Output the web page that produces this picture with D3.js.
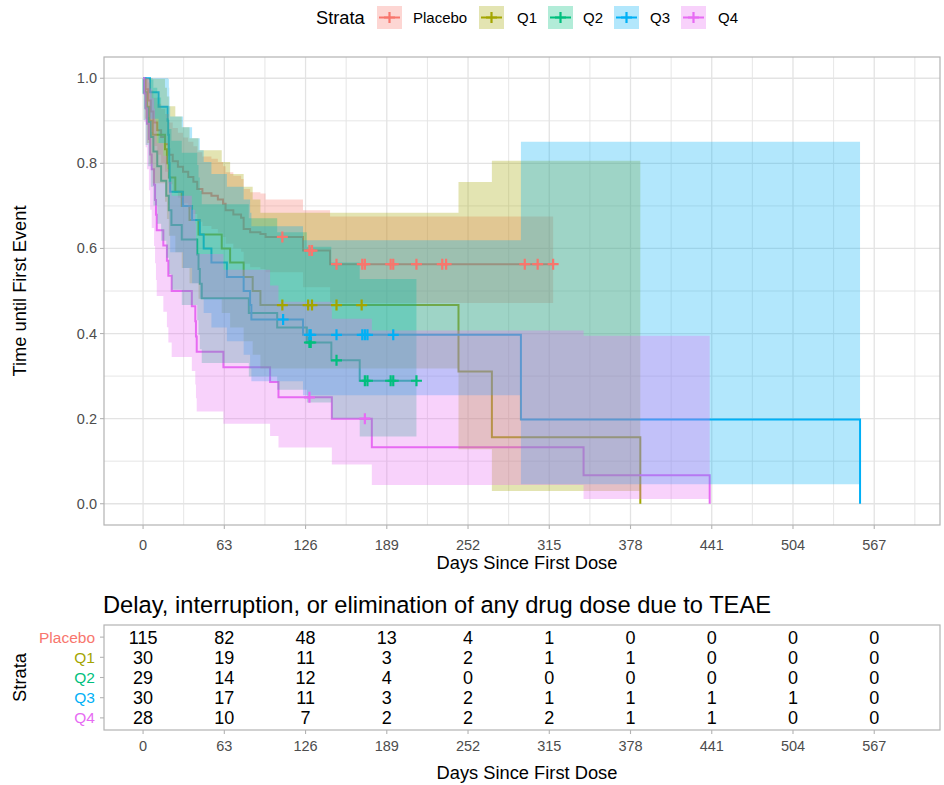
<!DOCTYPE html>
<html>
<head>
<meta charset="utf-8">
<script src="https://cdn.jsdelivr.net/npm/d3@7"></script>
<style>
  body { margin: 0; background: #fff; }
  svg { display: block; }
  text { font-family: "Liberation Sans", Arial, Helvetica, sans-serif; }
</style>
</head>
<body>
<svg id="chart" width="944" height="785"></svg>
<script>
// ---- Kaplan-Meier estimates by stratum (time in days, survival, 95% CI) ----
const strata = ["Placebo", "Q1", "Q2", "Q3", "Q4"];
const strataColors = ["#F8766D", "#A3A500", "#00BF7D", "#00B0F6", "#E76BF3"];

const placeboTime  = [0,2,4,6,8,11,14,17,20,23,27,31,35,39,42,46,53,58,62,64,70,76,78,83,91,95,124,145];
const placeboSurv  = [1,0.974,0.948,0.922,0.896,0.878,0.862,0.845,0.82,0.805,0.792,0.78,0.768,0.757,0.74,0.73,0.724,0.715,0.705,0.69,0.68,0.672,0.646,0.638,0.634,0.627,0.595,0.563];
const placeboUpper = [1,1,0.99,0.972,0.954,0.94,0.928,0.916,0.896,0.883,0.872,0.861,0.851,0.84,0.826,0.816,0.811,0.803,0.793,0.779,0.771,0.763,0.74,0.732,0.729,0.715,0.69,0.675];
const placeboLower = [1,0.945,0.909,0.874,0.841,0.82,0.8,0.78,0.751,0.734,0.719,0.706,0.692,0.681,0.663,0.653,0.646,0.637,0.627,0.611,0.6,0.592,0.564,0.556,0.552,0.544,0.509,0.472];
const placeboEnd = 318;
const placeboCensor = [108,129,131,150,170,172,192,194,212,232,235,296,306,318];

const q1Time  = [0,1.5,3,5,7.5,17,18.5,20,25,30,36,43,61,67.5,78,85,91,244.6,270.5,385.6];
const q1Surv  = [1,0.967,0.933,0.9,0.867,0.833,0.8,0.767,0.733,0.7,0.667,0.633,0.6,0.567,0.533,0.5,0.467,0.311,0.156,0];
const q1Upper = [1,1,1,1,0.998,0.978,0.957,0.934,0.91,0.885,0.859,0.831,0.803,0.775,0.745,0.715,0.684,0.756,0.806,null];
const q1Lower = [1,0.905,0.848,0.799,0.753,0.71,0.669,0.63,0.591,0.554,0.518,0.482,0.448,0.414,0.382,0.35,0.318,0.128,0.03,null];
const q1End = 385.6;
const q1Censor = [108,128,131,150,169.5];

const q2Time  = [0,0.5,2,4,6,8,11,14,18,20,22,30,42,43,44,45.5,82,104,127,146,168];
const q2Surv  = [1,0.966,0.931,0.897,0.862,0.828,0.793,0.759,0.724,0.69,0.655,0.621,0.586,0.552,0.517,0.483,0.448,0.414,0.379,0.337,0.289];
const q2Upper = [1,1,1,1,0.997,0.978,0.955,0.932,0.906,0.881,0.853,0.825,0.796,0.767,0.735,0.704,0.671,0.638,0.604,0.567,0.528];
const q2Lower = [1,0.902,0.843,0.793,0.745,0.701,0.658,0.618,0.578,0.54,0.503,0.467,0.431,0.397,0.363,0.331,0.299,0.268,0.238,0.2,0.158];
const q2End = 212;
const q2Censor = [129,130,150,172,174,192,194,212];

const q3Time  = [0,5.4,12,19,19.5,20,20.3,20.6,21,31,38,44,47,53,65,78,83,84,124,293,556];
const q3Surv  = [1,0.967,0.933,0.9,0.867,0.833,0.8,0.767,0.733,0.7,0.667,0.633,0.6,0.567,0.533,0.5,0.467,0.433,0.397,0.198,0];
const q3Upper = [1,1,1,1,0.998,0.978,0.957,0.934,0.91,0.885,0.859,0.831,0.803,0.775,0.745,0.715,0.684,0.652,0.619,0.851,null];
const q3Lower = [1,0.905,0.848,0.799,0.753,0.71,0.669,0.63,0.591,0.554,0.518,0.482,0.448,0.414,0.382,0.35,0.318,0.288,0.255,0.046,null];
const q3End = 556;
const q3Censor = [108.6,129,130,150,170,172,174,194];

const q4Time  = [0,1,2,3,4.5,5.5,6.7,8.5,9.3,10,10.6,15.7,18.5,19.6,22.2,37.8,40.5,41,41.6,62.3,98.5,105,146.4,177.4,341.6,439.4];
const q4Surv  = [1,0.964,0.929,0.893,0.857,0.821,0.786,0.75,0.714,0.679,0.643,0.607,0.571,0.536,0.5,0.464,0.429,0.393,0.357,0.321,0.286,0.25,0.2,0.133,0.067,0];
const q4Upper = [1,1,1,1,0.997,0.976,0.953,0.929,0.903,0.876,0.847,0.818,0.787,0.757,0.724,0.691,0.658,0.623,0.587,0.55,0.513,0.475,0.435,0.407,0.395,null];
const q4Lower = [1,0.898,0.838,0.786,0.737,0.691,0.648,0.606,0.565,0.526,0.488,0.451,0.415,0.379,0.345,0.312,0.28,0.248,0.217,0.188,0.159,0.132,0.092,0.044,0.011,null];
const q4End = 439.4;
const q4Censor = [129,172];

// ---- Number at risk ----
const riskTimes   = [0,63,126,189,252,315,378,441,504,567];
const riskPlacebo = [115,82,48,13,4,1,0,0,0,0];
const riskQ1      = [30,19,11,3,2,1,1,0,0,0];
const riskQ2      = [29,14,12,4,0,0,0,0,0,0];
const riskQ3      = [30,17,11,3,2,1,1,1,1,0];
const riskQ4      = [28,10,7,2,2,2,1,1,0,0];

// ---- Axis ticks ----
const xTicks = [0,63,126,189,252,315,378,441,504,567];
const xMinor = [31.5,94.5,157.5,220.5,283.5,346.5,409.5,472.5,535.5,598.5];
const yTicks = [0,0.2,0.4,0.6,0.8,1.0];
const yMinor = [0.1,0.3,0.5,0.7,0.9];

const groups = [
  {name: strata[0], color: strataColors[0], time: placeboTime, surv: placeboSurv, upper: placeboUpper, lower: placeboLower, end: placeboEnd, censor: placeboCensor, risk: riskPlacebo},
  {name: strata[1], color: strataColors[1], time: q1Time, surv: q1Surv, upper: q1Upper, lower: q1Lower, end: q1End, censor: q1Censor, risk: riskQ1},
  {name: strata[2], color: strataColors[2], time: q2Time, surv: q2Surv, upper: q2Upper, lower: q2Lower, end: q2End, censor: q2Censor, risk: riskQ2},
  {name: strata[3], color: strataColors[3], time: q3Time, surv: q3Surv, upper: q3Upper, lower: q3Lower, end: q3End, censor: q3Censor, risk: riskQ3},
  {name: strata[4], color: strataColors[4], time: q4Time, surv: q4Surv, upper: q4Upper, lower: q4Lower, end: q4End, censor: q4Censor, risk: riskQ4}
];

const svg = d3.select("#chart");
const FONT_TICK = 14.5, FONT_TITLE = 18.3;
const tickGrey = "#4d4d4d", borderGrey = "#b3b3b3", gridGrey = "#e3e3e3";

// ---- Main survival panel ----
const P = {left: 104, right: 940, top: 57, bottom: 525};
const x = d3.scaleLinear().domain([-30.3, 618]).range([P.left, P.right]);
const y = d3.scaleLinear().domain([-0.05, 1.05]).range([P.bottom, P.top]);

const grid = svg.append("g");
grid.selectAll(".xminor").data(xMinor.filter(d => x(d) < P.right)).join("line")
  .attr("x1", d => x(d)).attr("x2", d => x(d)).attr("y1", P.top).attr("y2", P.bottom)
  .attr("stroke", gridGrey).attr("stroke-width", 0.9);
grid.selectAll(".yminor").data(yMinor).join("line")
  .attr("x1", P.left).attr("x2", P.right).attr("y1", d => y(d)).attr("y2", d => y(d))
  .attr("stroke", gridGrey).attr("stroke-width", 0.9);
grid.selectAll(".xmajor").data(xTicks).join("line")
  .attr("x1", d => x(d)).attr("x2", d => x(d)).attr("y1", P.top).attr("y2", P.bottom)
  .attr("stroke", gridGrey).attr("stroke-width", 1.3);
grid.selectAll(".ymajor").data(yTicks).join("line")
  .attr("x1", P.left).attr("x2", P.right).attr("y1", d => y(d)).attr("y2", d => y(d))
  .attr("stroke", gridGrey).attr("stroke-width", 1.3);

const plot = svg.append("g");
const lineGen = d3.line().curve(d3.curveStepAfter).x(d => x(d.t)).y(d => y(d.s));
const areaGen = d3.area().curve(d3.curveStepAfter).x(d => x(d.t)).y0(d => y(d.l)).y1(d => y(d.u));

function linePoints(g) {
  const pts = g.time.map((t, i) => ({t, s: g.surv[i]}));
  const last = g.surv[g.surv.length - 1];
  if (last > 0) pts.push({t: g.end, s: last});
  return pts;
}
function ribbonPoints(g) {
  const pts = [];
  g.time.forEach((t, i) => { if (g.upper[i] != null) pts.push({t, u: g.upper[i], l: g.lower[i]}); });
  const lastIdx = pts.length - 1;
  const stop = g.upper[g.upper.length - 1] == null ? g.time[g.time.length - 1] : g.end;
  pts.push({t: stop, u: pts[lastIdx].u, l: pts[lastIdx].l});
  return pts;
}
function survAt(g, t) {
  const i = d3.bisectRight(g.time, t) - 1;
  return g.surv[Math.max(0, i)];
}

// step curves
plot.selectAll(".km").data(groups).join("path")
  .attr("d", g => lineGen(linePoints(g)))
  .attr("fill", "none").attr("stroke", g => g.color).attr("stroke-width", 2);

// confidence bands
plot.selectAll(".ci").data(groups).join("path")
  .attr("d", g => areaGen(ribbonPoints(g)))
  .attr("fill", g => g.color).attr("fill-opacity", 0.3).attr("stroke", "none");

// censoring marks
groups.forEach(g => {
  plot.selectAll(null).data(g.censor).join("path")
    .attr("transform", t => `translate(${x(t)},${y(survAt(g, t))})`)
    .attr("d", "M-5.5,0H5.5M0,-5.5V5.5")
    .attr("stroke", g.color).attr("stroke-width", 2.2).attr("fill", "none");
});

// panel border
svg.append("rect").attr("x", P.left).attr("y", P.top)
  .attr("width", P.right - P.left).attr("height", P.bottom - P.top)
  .attr("fill", "none").attr("stroke", borderGrey).attr("stroke-width", 1.2);

// axes
const ax = svg.append("g");
ax.selectAll(".xt").data(xTicks).join("line")
  .attr("x1", d => x(d)).attr("x2", d => x(d)).attr("y1", P.bottom).attr("y2", P.bottom + 4)
  .attr("stroke", borderGrey).attr("stroke-width", 1.1);
ax.selectAll(".xl").data(xTicks).join("text")
  .attr("x", d => x(d)).attr("y", 550).attr("text-anchor", "middle")
  .attr("font-size", FONT_TICK).attr("fill", tickGrey).text(d => d);
ax.selectAll(".yt").data(yTicks).join("line")
  .attr("x1", P.left - 4).attr("x2", P.left).attr("y1", d => y(d)).attr("y2", d => y(d))
  .attr("stroke", borderGrey).attr("stroke-width", 1.1);
ax.selectAll(".yl").data(yTicks).join("text")
  .attr("x", 97).attr("y", d => y(d) + 5).attr("text-anchor", "end")
  .attr("font-size", FONT_TICK).attr("fill", tickGrey).text(d => d3.format(".1f")(d));

svg.append("text").attr("x", 527).attr("y", 569)
  .attr("text-anchor", "middle").attr("font-size", FONT_TITLE).attr("fill", "#000")
  .text("Days Since First Dose");
svg.append("text").attr("transform", `translate(26,${(P.top + P.bottom) / 2}) rotate(-90)`)
  .attr("text-anchor", "middle").attr("font-size", FONT_TITLE).attr("fill", "#000")
  .text("Time until First Event");

// ---- Legend ----
const legend = svg.append("g");
legend.append("text").attr("x", 316).attr("y", 23.5).attr("font-size", FONT_TITLE).attr("fill", "#000").text("Strata");
const keyX = [377, 479, 548, 614, 681];
const labelX = [413, 517, 583, 650, 718];
groups.forEach((g, i) => {
  const k = legend.append("g").attr("transform", `translate(${keyX[i]},6)`);
  k.append("rect").attr("width", 25).attr("height", 23).attr("fill", g.color).attr("fill-opacity", 0.3);
  k.append("line").attr("x1", 2).attr("x2", 23).attr("y1", 11.5).attr("y2", 11.5).attr("stroke", g.color).attr("stroke-width", 2);
  k.append("path").attr("d", "M7,11.5H18M12.5,6V17").attr("stroke", g.color).attr("stroke-width", 2.2);
  legend.append("text").attr("x", labelX[i]).attr("y", 23).attr("font-size", 15).attr("fill", "#000").text(g.name);
});

// ---- Risk table ----
const T = {left: 104, right: 940, top: 625, bottom: 730};
const ty = d3.scaleLinear().domain([0.4, 5.6]).range([T.top, T.bottom]);

svg.append("text").attr("x", 103).attr("y", 613).attr("font-size", 23.7).attr("fill", "#000")
  .text("Delay, interruption, or elimination of any drug dose due to TEAE");

svg.append("rect").attr("x", T.left).attr("y", T.top)
  .attr("width", T.right - T.left).attr("height", T.bottom - T.top)
  .attr("fill", "none").attr("stroke", borderGrey).attr("stroke-width", 1.2);

groups.forEach((g, i) => {
  const ry = ty(i + 1);
  svg.append("line").attr("x1", T.left - 4).attr("x2", T.left).attr("y1", ry).attr("y2", ry)
    .attr("stroke", borderGrey).attr("stroke-width", 1.1);
  svg.append("text").attr("x", 95).attr("y", ry + 5.5).attr("text-anchor", "end")
    .attr("font-size", 15.5).attr("fill", g.color).text(g.name);
  svg.selectAll(null).data(g.risk).join("text")
    .attr("x", (d, j) => x(riskTimes[j])).attr("y", ry + 6.5).attr("text-anchor", "middle")
    .attr("font-size", 18).attr("fill", "#000").text(d => d);
});

svg.selectAll(".rxt").data(xTicks).join("line")
  .attr("x1", d => x(d)).attr("x2", d => x(d)).attr("y1", T.bottom).attr("y2", T.bottom + 4)
  .attr("stroke", borderGrey).attr("stroke-width", 1.1);
svg.selectAll(".rxl").data(xTicks).join("text")
  .attr("x", d => x(d)).attr("y", 751).attr("text-anchor", "middle")
  .attr("font-size", FONT_TICK).attr("fill", tickGrey).text(d => d);
svg.append("text").attr("x", 527).attr("y", 779)
  .attr("text-anchor", "middle").attr("font-size", FONT_TITLE).attr("fill", "#000")
  .text("Days Since First Dose");
svg.append("text").attr("transform", `translate(26,${(T.top + T.bottom) / 2}) rotate(-90)`)
  .attr("text-anchor", "middle").attr("font-size", FONT_TITLE).attr("fill", "#000")
  .text("Strata");
</script>
</body>
</html>
